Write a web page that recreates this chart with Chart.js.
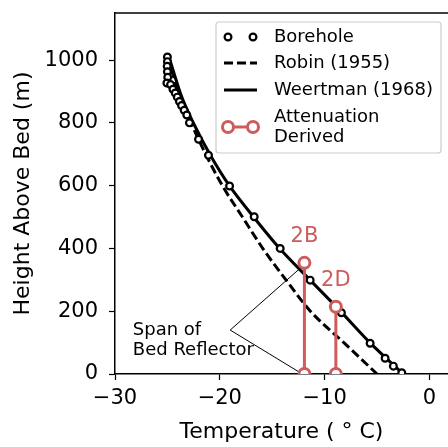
<!DOCTYPE html>
<html>
<head>
<meta charset="utf-8">
<script src="https://cdn.jsdelivr.net/npm/chart.js@4.4.0/dist/chart.umd.min.js"></script>
<style>
  html, body { margin: 0; padding: 0; background: #fff; }
  #wrap { width: 448px; height: 447px; }
</style>
</head>
<body>
<div id="wrap"><canvas id="tempChart" width="448" height="447"></canvas></div>
<script>
// values
const boreholeTemp = [-25.0, -25.0, -25.02, -25.0, -24.97, -25.05, -24.7, -24.47, -24.25, -24.05, -23.85, -23.65, -23.4, -23.15, -22.9, -22.03, -21.08, -19.07, -16.72, -14.24, -11.38, -8.4, -5.66, -4.23, -3.44, -2.64];
const boreholeHeight = [1010, 995, 980, 963, 945, 927, 922, 907, 895, 882, 868, 855, 840, 825, 800, 748, 697, 599, 501, 400, 299, 195, 98, 50, 25, 4];

const robinTemp = [-25.0, -23.85, -22.75, -21.3, -19.74, -17.84, -15.86, -13.67, -11.38, -8.14, -5.0];
const robinHeight = [1010, 890, 800, 697, 599, 500, 398, 299, 201, 99, 0];

const weertmanTemp = [-24.85, -23.7, -22.5, -20.9, -19.07, -16.8, -14.24, -11.38, -8.52, -5.66, -2.5];
const weertmanHeight = [1010, 889, 798, 697, 599, 501, 398, 299, 201, 99, 0];

const attenNames = ['2B', '2D'];
const attenTemp = [-11.93, -8.93];
const attenHeight = [354, 214];

// "Span of Bed Reflector" pointer lines
const spanTemp = [-12.33, -19.01, -12.42];
const spanHeight = [337, 140, 6];
const spanText = ['Span of', 'Bed Reflector'];

const xTicks = [-30, -20, -10, 0];
const yTicks = [0, 200, 400, 600, 800, 1000];
const legendLabels = ['Borehole', 'Robin (1955)', 'Weertman (1968)', 'Attenuation\nDerived'];

const red = '#cd5c5c';
const font = 'DejaVu Sans';

function pts(xs, ys) {
    return xs.map((x, i) => ({ x: x, y: ys[i] }));
}

const datasets = [];
attenTemp.forEach((t, i) => {
    datasets.push({
        data: [{ x: t, y: 0 }, { x: t, y: attenHeight[i] }],
        borderColor: red, borderWidth: 3,
        pointRadius: 5.5, pointBorderWidth: 3,
        pointBackgroundColor: '#fff', pointBorderColor: red,
        order: 0
    });
});
datasets.push({
    data: pts(boreholeTemp, boreholeHeight),
    showLine: false,
    pointRadius: 3.4, pointBorderWidth: 2.2,
    pointBackgroundColor: '#fff', pointBorderColor: '#000',
    order: 1
});
datasets.push({
    data: pts(weertmanTemp, weertmanHeight),
    borderColor: '#000', borderWidth: 3, pointRadius: 0,
    cubicInterpolationMode: 'monotone',
    order: 2
});
datasets.push({
    data: pts(robinTemp, robinHeight),
    borderColor: '#000', borderWidth: 3, borderDash: [9, 4], pointRadius: 0,
    cubicInterpolationMode: 'monotone',
    order: 3
});
datasets.push({
    data: pts(spanTemp, spanHeight),
    borderColor: '#000', borderWidth: 1, pointRadius: 0,
    order: 4
});

function minus(v) {
    return String(v).replace('-', '\u2212');
}

// text, legend and top spine drawn on top of the chart
const extras = {
    id: 'extras',
    afterDraw(chart) {
        const ctx = chart.ctx;
        const area = chart.chartArea;
        const xs = chart.scales.x, ys = chart.scales.y;
        ctx.save();

        // top spine
        ctx.strokeStyle = '#000';
        ctx.lineWidth = 1.5;
        ctx.beginPath();
        ctx.moveTo(area.left - 0.75, area.top);
        ctx.lineTo(area.right, area.top);
        ctx.stroke();

        // axis titles
        ctx.fillStyle = '#000';
        ctx.font = '22px "' + font + '"';
        ctx.textAlign = 'center';
        ctx.textBaseline = 'alphabetic';
        ctx.fillText('Temperature ( \u00b0 C)', (area.left + area.right) / 2, 438);
        ctx.save();
        ctx.translate(29, (area.top + area.bottom) / 2);
        ctx.rotate(-Math.PI / 2);
        ctx.fillText('Height Above Bed (m)', 0, 0);
        ctx.restore();

        // point labels
        ctx.fillStyle = red;
        ctx.font = '21px "' + font + '"';
        ctx.textBaseline = 'middle';
        attenNames.forEach((n, i) => {
            ctx.fillText(n, xs.getPixelForValue(attenTemp[i]), ys.getPixelForValue(attenHeight[i]) - 26);
        });

        // span annotation
        ctx.fillStyle = '#000';
        ctx.font = '18px "' + font + '"';
        ctx.textAlign = 'left';
        spanText.forEach((s, i) => {
            ctx.fillText(s, xs.getPixelForValue(-28.3), ys.getPixelForValue(140) + i * 20);
        });

        // legend
        const bx = area.right - 232, by = area.top + 9, bw = 225, bh = 131;
        ctx.fillStyle = 'rgba(255,255,255,0.85)';
        ctx.strokeStyle = '#cccccc';
        ctx.lineWidth = 1.2;
        ctx.beginPath();
        ctx.roundRect(bx, by, bw, bh, 3);
        ctx.fill();
        ctx.stroke();

        const mx0 = bx + 12, mx1 = bx + 37, tx = bx + 58;
        const rows = [by + 15, by + 41, by + 68, by + 105];
        ctx.font = '18px "' + font + '"';
        ctx.textBaseline = 'middle';
        ctx.fillStyle = '#000';
        legendLabels.forEach((lab, i) => {
            const lines = lab.split('\n');
            lines.forEach((l, j) => {
                ctx.fillText(l, tx, rows[i] + (j - (lines.length - 1) / 2) * 20);
            });
        });

        // markers
        [mx0, mx1].forEach(mx => {
            ctx.beginPath();
            ctx.arc(mx, rows[0], 3.4, 0, Math.PI * 2);
            ctx.fillStyle = '#fff';
            ctx.fill();
            ctx.lineWidth = 2.2;
            ctx.strokeStyle = '#000';
            ctx.stroke();
        });
        ctx.lineWidth = 3;
        ctx.setLineDash([9, 4]);
        ctx.beginPath();
        ctx.moveTo(mx0 - 4, rows[1]);
        ctx.lineTo(mx1 + 4, rows[1]);
        ctx.stroke();
        ctx.setLineDash([]);
        ctx.beginPath();
        ctx.moveTo(mx0 - 4, rows[2]);
        ctx.lineTo(mx1 + 4, rows[2]);
        ctx.stroke();
        ctx.strokeStyle = red;
        ctx.beginPath();
        ctx.moveTo(mx0, rows[3]);
        ctx.lineTo(mx1, rows[3]);
        ctx.stroke();
        [mx0, mx1].forEach(mx => {
            ctx.beginPath();
            ctx.arc(mx, rows[3], 5.5, 0, Math.PI * 2);
            ctx.fillStyle = '#fff';
            ctx.fill();
            ctx.stroke();
        });

        ctx.restore();
    }
};

new Chart(document.getElementById('tempChart'), {
    type: 'line',
    data: { datasets: datasets },
    options: {
        responsive: false,
        animation: false,
        layout: { autoPadding: false, padding: { top: 13, right: 0, left: 0, bottom: 0 } },
        plugins: { legend: { display: false }, tooltip: { enabled: false } },
        scales: {
            x: {
                type: 'linear', min: -30, max: 1.77,
                afterBuildTicks: s => { s.ticks = xTicks.map(v => ({ value: v })); },
                afterFit: s => { s.height = 73; s.paddingLeft = 0; s.paddingRight = 0; },
                ticks: {
                    color: '#000', font: { family: font, size: 21 }, padding: 6,
                    maxRotation: 0, callback: v => minus(v)
                },
                grid: { drawOnChartArea: false, tickLength: 6, tickColor: '#000', tickWidth: 1.2 },
                border: { color: '#000', width: 1.5 }
            },
            y: {
                type: 'linear', min: 0, max: 1150,
                afterBuildTicks: s => { s.ticks = yTicks.map(v => ({ value: v })); },
                afterFit: s => { s.width = 115; s.paddingTop = 0; s.paddingBottom = 0; },
                ticks: {
                    color: '#000', font: { family: font, size: 21 }, padding: 11,
                    callback: v => minus(v)
                },
                grid: { drawOnChartArea: false, tickLength: 6, tickColor: '#000', tickWidth: 1.2 },
                border: { color: '#000', width: 1.5 }
            }
        }
    },
    plugins: [extras]
});
</script>
</body>
</html>
